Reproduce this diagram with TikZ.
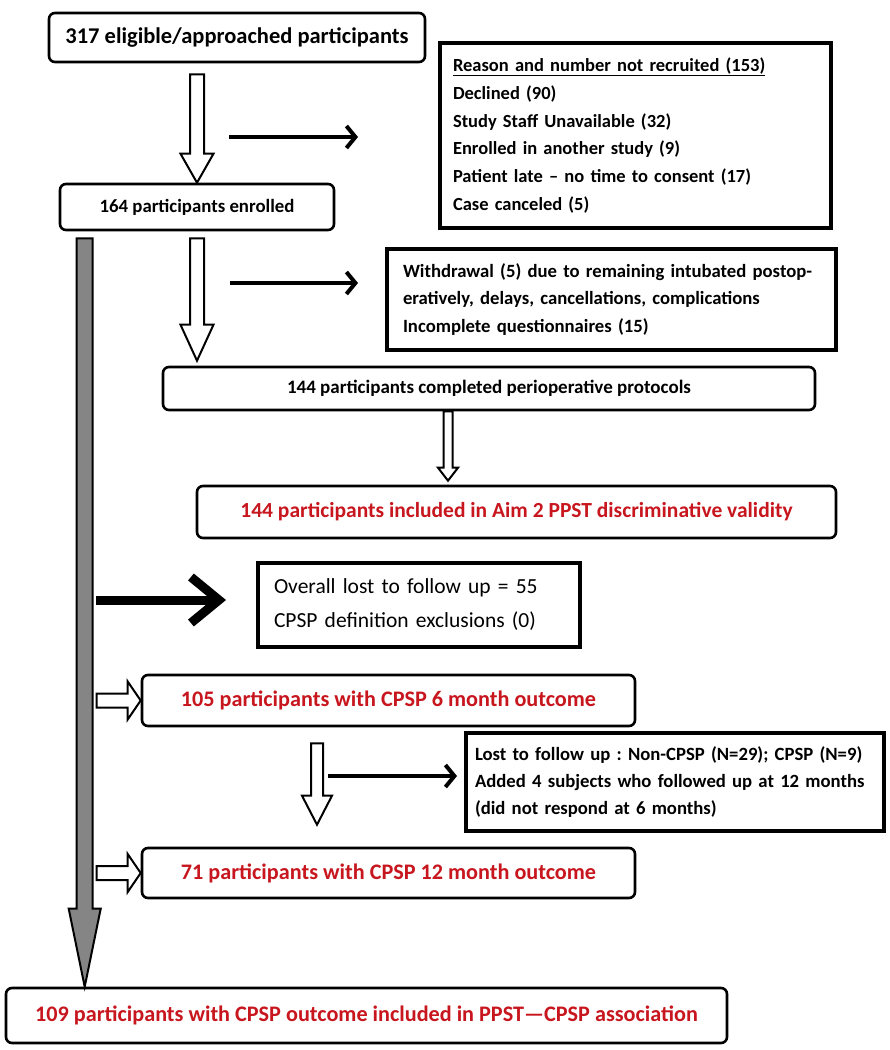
\documentclass[tikz,border=0pt]{standalone}
\usepackage{fontspec}
\setmainfont{Carlito}
\usepackage{tikz}
\usetikzlibrary{arrows.meta, positioning, calc}
\definecolor{cpspred}{HTML}{C8161E}
\definecolor{bargray}{HTML}{858585}

\tikzset{
  roundbox/.style={draw, line width=2.6pt, rounded corners=6pt, fill=white, inner sep=0pt},
  sharpbox/.style={draw, line width=3.2pt, fill=white, inner sep=0pt, align=left},
  hollow/.style={draw, line width=2pt, fill=white, line join=miter},
  thinarrow/.style={line width=4pt, -{Straight Barb[length=9pt, width=22pt]}},
}
% block arrows built from two points: shaft half width, head half width, head length
\newcommand{\hollowdown}[6][]{%
  \draw[hollow,#1] let \p1=(#2), \p2=(#3) in
    (\x1-#4,\y1) -- (\x1+#4,\y1) -- (\x1+#4,\y2+#6) -- (\x1+#5,\y2+#6)
    -- (\x1,\y2) -- (\x1-#5,\y2+#6) -- (\x1-#4,\y2+#6) -- cycle;}
\newcommand{\hollowright}[6][]{%
  \draw[hollow,#1] let \p1=(#2), \p2=(#3) in
    (\x1,\y1+#4) -- (\x2-#6,\y1+#4) -- (\x2-#6,\y1+#5) -- (\x2,\y1)
    -- (\x2-#6,\y1-#5) -- (\x2-#6,\y1-#4) -- (\x1,\y1-#4) -- cycle;}

\begin{document}
\frenchspacing
\begin{tikzpicture}[x=1pt, y=-1pt]
  \useasboundingbox (0,0) rectangle (890,1050);

  % Recruitment and enrolment
  \node[roundbox, minimum width=376, minimum height=49, font=\fontsize{22.5}{22.5}\selectfont\bfseries] (eligible) at (237,37.5) {317 eligible/approached participants};
  \node[sharpbox, minimum height=185, inner xsep=13pt, text width=365pt, font=\fontsize{18.5}{27.8}\selectfont\bfseries] (notrecruited) at (635.5,135.5) {\underline{Reason and number not recruited (153)}\\Declined (90)\\Study Staff Unavailable (32)\\Enrolled in another study (9)\\Patient late – no time to consent (17)\\Case canceled (5)};
  \node[roundbox, minimum width=274, minimum height=46, font=\fontsize{18.8}{18.8}\selectfont\bfseries] (enrolled) at (197,207) {164 participants enrolled};
  \node[sharpbox, minimum height=101, inner xsep=16pt, text width=417pt, font=\fontsize{18.7}{27.5}\selectfont\bfseries] (withdrawn) at (611.5,299.5) {Withdrawal (5) due to remaining intubated postop-\\eratively, delays, cancellations, complications\\Incomplete questionnaires (15)};
  \node[roundbox, minimum width=652, minimum height=43, font=\fontsize{19}{19}\selectfont\bfseries] (completed) at (489,388.5) {144 participants completed perioperative protocols};
  \node[roundbox, text=cpspred, minimum width=639, minimum height=52, font=\fontsize{21.5}{21.5}\selectfont\bfseries] (aimtwo) at (516.5,512) {144 participants included in Aim 2 PPST discriminative validity};

  % Follow up at 6 and 12 months
  \node[sharpbox, minimum height=84, inner xsep=16pt, text width=290pt, font=\fontsize{21.5}{34}\selectfont] (lostoverall) at (419,605) {Overall lost to follow up = 55\\CPSP definition exclusions (0)};
  \node[roundbox, text=cpspred, minimum width=493, minimum height=51, font=\fontsize{22.2}{22.2}\selectfont\bfseries] (sixmonth) at (388.5,700.5) {105 participants with CPSP 6 month outcome};
  \node[sharpbox, minimum height=98, inner xsep=9pt, text width=400pt, font=\fontsize{18.7}{27}\selectfont\bfseries] (lostfu) at (675,782) {Lost to follow up : Non-CPSP (N=29); CPSP (N=9)\\Added 4 subjects who followed up at 12 months\\(did not respond at 6 months)};
  \node[roundbox, text=cpspred, minimum width=493, minimum height=50, font=\fontsize{22.2}{22.2}\selectfont\bfseries] (twelvemonth) at (388.5,873) {71 participants with CPSP 12 month outcome};
  \node[roundbox, text=cpspred, minimum width=721, minimum height=55, font=\fontsize{22.2}{22.2}\selectfont\bfseries] (association) at (366.5,1015.5) {109 participants with CPSP outcome included in PPST—CPSP association};

  % Free ends of the arrows
  \coordinate (elA) at ($(enrolled.north |- eligible.south)+(0,11)$);
  \coordinate (enA) at ($(enrolled.south)+(0,7)$);
  \coordinate (enB) at ($(enrolled.south |- completed.north)+(0,-5)$);
  \coordinate (coA) at ($(completed.south)+(-41,0)$);
  \coordinate (coB) at ($(coA |- aimtwo.north)+(0,-4)$);
  \coordinate (smA) at ($(sixmonth.south)+(-71.5,16)$);
  \coordinate (smB) at ($(smA |- twelvemonth.north)+(0,-22)$);
  \coordinate (barA) at ($(enrolled.south west)+(26,7)$);
  \coordinate (sixA) at ($(barA |- sixmonth.west)+(12,0)$);
  \coordinate (twA) at ($(barA |- twelvemonth.west)+(12,0)$);
  \coordinate (recA) at (229,137);
  \coordinate (recB) at (358,137);
  \coordinate (wdA) at (230,283);
  \coordinate (wdB) at (358,283);
  \coordinate (ovA) at (96,600);
  \coordinate (ovB) at (226,600);
  \coordinate (fuA) at (328,776);
  \coordinate (fuB) at (457,776);

  % Gray arrow down the left side
  \hollowdown[fill=bargray]{barA}{barA |- association.north}{8pt}{16pt}{78pt}

  % Hollow arrows
  \hollowdown{elA}{enrolled.north}{7pt}{16.5pt}{29pt}
  \hollowdown{enA}{enB}{7pt}{16.5pt}{36pt}
  \hollowdown{coA}{coB}{4.5pt}{10pt}{13pt}
  \hollowdown{smA}{smB}{6pt}{15pt}{29pt}
  \hollowright{sixA}{sixmonth.west}{7pt}{19pt}{13pt}
  \hollowright{twA}{twelvemonth.west}{7pt}{19pt}{13pt}

  % Arrows to the exclusion boxes
  \draw[thinarrow] (recA) -- (recB);
  \draw[thinarrow] (wdA) -- (wdB);
  \draw[thinarrow] (fuA) -- (fuB);
  \draw[line width=9pt, -{Straight Barb[length=28pt, width=46pt]}] (ovA) -- (ovB);
\end{tikzpicture}
\end{document}
